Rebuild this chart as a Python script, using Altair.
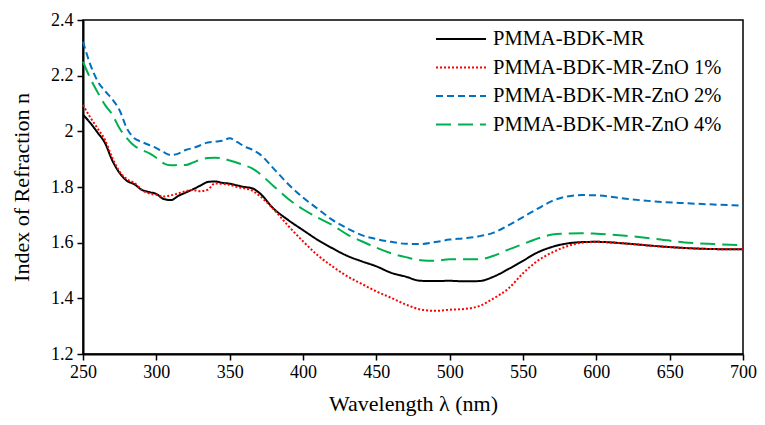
import altair as alt
import pandas as pd

wavelength = [250, 255, 260, 265, 270, 275, 280, 285, 290, 295, 300, 305, 310, 315, 320, 325,
              330, 335, 340, 345, 350, 355, 360, 365, 370, 380, 390, 400, 410, 420, 430, 440,
              450, 460, 470, 480, 490, 500, 510, 520, 530, 540, 550, 560, 570, 580, 590, 600,
              620, 640, 660, 680, 700]

pmma = [2.06, 2.03, 1.995, 1.958, 1.895, 1.85, 1.822, 1.81, 1.79, 1.782, 1.775, 1.757, 1.753,
        1.768, 1.78, 1.792, 1.805, 1.818, 1.82, 1.815, 1.812, 1.806, 1.80, 1.796, 1.78, 1.722,
        1.681, 1.645, 1.61, 1.58, 1.553, 1.533, 1.515, 1.492, 1.478, 1.463, 1.462, 1.463, 1.461,
        1.462, 1.478, 1.505, 1.535, 1.565, 1.585, 1.597, 1.602, 1.603, 1.597, 1.588, 1.581,
        1.577, 1.576]

zno1 = [2.095, 2.05, 2.01, 1.969, 1.905, 1.855, 1.828, 1.815, 1.79, 1.777, 1.772, 1.766, 1.77,
        1.777, 1.785, 1.789, 1.785, 1.79, 1.813, 1.811, 1.808, 1.80, 1.795, 1.788, 1.77, 1.72,
        1.66, 1.605, 1.555, 1.515, 1.48, 1.452, 1.425, 1.402, 1.378, 1.36, 1.355, 1.359, 1.362,
        1.372, 1.40, 1.435, 1.49, 1.535, 1.565, 1.587, 1.60, 1.603, 1.597, 1.588, 1.581, 1.577,
        1.576]

zno2 = [2.322, 2.24, 2.18, 2.145, 2.115, 2.075, 2.01, 1.975, 1.962, 1.951, 1.94, 1.925, 1.915,
        1.92, 1.933, 1.94, 1.95, 1.96, 1.963, 1.966, 1.975, 1.962, 1.946, 1.935, 1.92, 1.866,
        1.81, 1.762, 1.722, 1.682, 1.652, 1.627, 1.613, 1.603, 1.596, 1.595, 1.602, 1.611,
        1.616, 1.623, 1.636, 1.662, 1.692, 1.722, 1.75, 1.766, 1.771, 1.77, 1.758, 1.748,
        1.742, 1.737, 1.733]

zno4 = [2.25, 2.19, 2.14, 2.095, 2.06, 2.01, 1.975, 1.948, 1.933, 1.922, 1.905, 1.885, 1.878,
        1.879, 1.879, 1.888, 1.898, 1.904, 1.905, 1.903, 1.895, 1.887, 1.878, 1.868, 1.85,
        1.803, 1.757, 1.72, 1.69, 1.663, 1.63, 1.605, 1.582, 1.562, 1.548, 1.537, 1.535, 1.54,
        1.54, 1.54, 1.553, 1.575, 1.595, 1.615, 1.629, 1.633, 1.634, 1.632, 1.625, 1.614,
        1.601, 1.595, 1.591]

series_names = ["PMMA-BDK-MR", "PMMA-BDK-MR-ZnO 1%", "PMMA-BDK-MR-ZnO 2%", "PMMA-BDK-MR-ZnO 4%"]
series_values = [pmma, zno1, zno2, zno4]
x_ticks = [250, 300, 350, 400, 450, 500, 550, 600, 650, 700]
y_ticks = [1.2, 1.4, 1.6, 1.8, 2.0, 2.2, 2.4]

colors = ["#000000", "#FF0000", "#0070C0", "#00B050"]
dashes = [[1, 0], [2, 2], [7, 4], [15, 7]]

rows = []
for name, vals in zip(series_names, series_values):
    for w, v in zip(wavelength, vals):
        rows.append({"wavelength": w, "n": v, "series": name})
df = pd.DataFrame(rows)

FONT = "Liberation Serif"

legend_kw = dict(title=None, orient="none", legendX=352, legendY=9,
                 symbolType="stroke", symbolSize=2500, symbolStrokeWidth=2,
                 clipHeight=20, rowPadding=7.5,
                 labelFont=FONT, labelFontSize=20.5, labelColor="black",
                 labelLimit=400, labelOffset=6)

chart = alt.Chart(df).mark_line(strokeWidth=2, interpolate="monotone").encode(
    x=alt.X("wavelength:Q",
            scale=alt.Scale(domain=[250, 700], nice=False),
            axis=alt.Axis(values=x_ticks, title="Wavelength λ (nm)", grid=False,
                          labelFlush=False,
                          domainColor="black", domainWidth=2, tickColor="black",
                          tickSize=6, tickWidth=1.5, labelFont=FONT, labelFontSize=18,
                          labelColor="black", titleFont=FONT, titleFontSize=22,
                          titleFontWeight="normal", titleColor="black",
                          labelPadding=3, titlePadding=12)),
    y=alt.Y("n:Q",
            scale=alt.Scale(domain=[1.2, 2.4], nice=False, zero=False),
            axis=alt.Axis(values=y_ticks, format="~g", title="Index of Refraction n",
                          grid=False, labelFlush=False, domainColor="black", domainWidth=2,
                          tickColor="black", tickSize=6, tickWidth=1.5,
                          labelFont=FONT, labelFontSize=18, labelColor="black",
                          titleFont=FONT, titleFontSize=22, titleFontWeight="normal",
                          titleColor="black", labelPadding=4, titlePadding=17)),
    color=alt.Color("series:N", scale=alt.Scale(domain=series_names, range=colors),
                    legend=alt.Legend(**legend_kw)),
    strokeDash=alt.StrokeDash("series:N", scale=alt.Scale(domain=series_names, range=dashes),
                              legend=alt.Legend(**legend_kw)),
    detail="series:N",
    order="wavelength:Q",
).properties(
    width=660, height=334,
    padding={"left": 75, "top": 12, "right": 14, "bottom": 62},
    autosize=alt.AutoSizeParams(type="none"),
).configure(
    background="white"
).configure_view(
    stroke="black", strokeWidth=1.5
)

chart.save("out.html", embed_options={"renderer": "svg", "actions": False})
